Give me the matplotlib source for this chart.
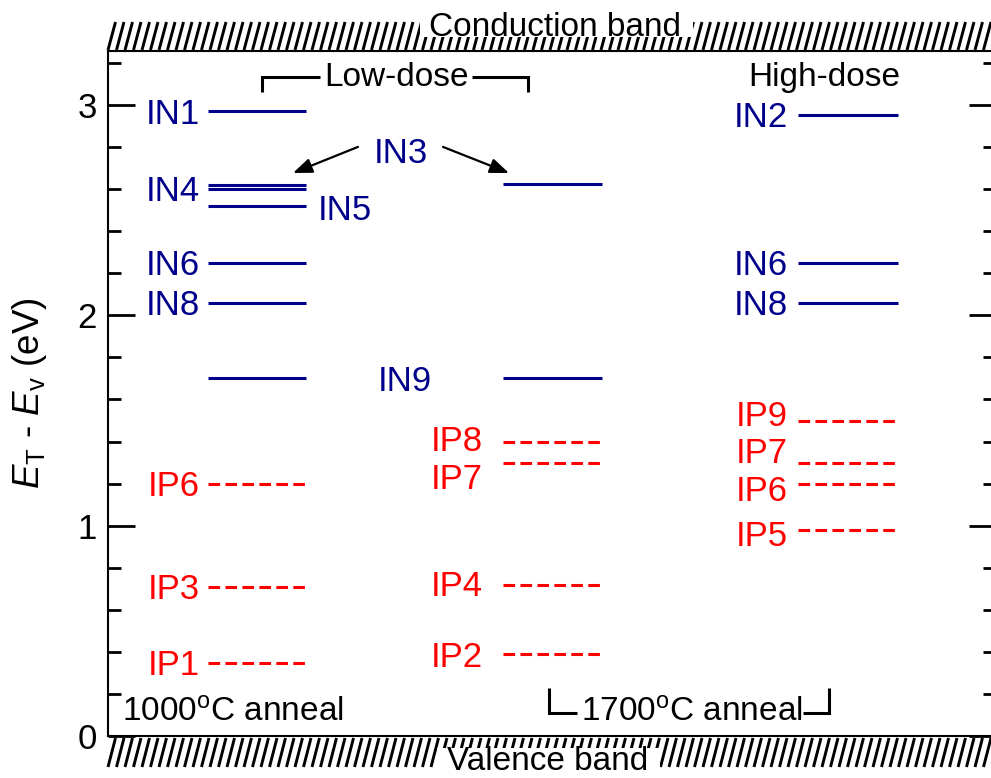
import matplotlib
matplotlib.use("Agg")
import matplotlib.pyplot as plt
from matplotlib.collections import LineCollection
from matplotlib.patches import Rectangle
from matplotlib.ticker import MultipleLocator

plt.rcParams['font.family'] = ['Liberation Sans', 'DejaVu Sans']
plt.rcParams['mathtext.fontset'] = 'custom'
plt.rcParams['mathtext.rm'] = 'Liberation Sans'
plt.rcParams['mathtext.it'] = 'Liberation Sans:italic'

# trap levels (eV above valence band)
low1000_names = ['IN1', 'IN3', 'IN4', 'IN5', 'IN6', 'IN8', 'IN9', 'IP6', 'IP3', 'IP1']
low1000_levels = [2.97, 2.62, 2.60, 2.52, 2.25, 2.06, 1.70, 1.20, 0.71, 0.35]

low1700_names = ['IN3', 'IN9', 'IP8', 'IP7', 'IP4', 'IP2']
low1700_levels = [2.625, 1.70, 1.40, 1.30, 0.72, 0.39]

high_names = ['IN2', 'IN6', 'IN8', 'IP9', 'IP7', 'IP6', 'IP5']
high_levels = [2.95, 2.25, 2.06, 1.50, 1.30, 1.20, 0.98]

W, H, DPI = 991, 778, 100
NAVY = '#00008b'
RED = '#ff0000'
FS = 25

fig = plt.figure(figsize=(W / DPI, H / DPI), dpi=DPI)
x0, x1, ytop, ybot = 108, 996, 51, 736.3
ax = fig.add_axes([x0 / W, 1 - ybot / H, (x1 - x0) / W, (ybot - ytop) / H])
px_per_ev = 210.5
ax.set_xlim(0, (x1 - x0) / 100)
ax.set_ylim(0, (ybot - ytop) / px_per_ev)


def px2pt(p):
    return p * 72 / DPI


# columns: (names, levels, line span, label gap in px)
columns = [
    (low1000_names, low1000_levels, (1.00, 1.98), 8),
    (low1700_names, low1700_levels, (3.95, 4.94), 20),
    (high_names, high_levels, (6.90, 7.90), 10),
]

# label nudges (px, downward) for crowded levels; None = labelled elsewhere
nudges = [
    {'IN3': None, 'IN5': 'right', 'IN9': None},
    {'IN3': None, 'IN9': None, 'IP8': -3, 'IP7': 14, 'IP4': -1.5},
    {'IN2': -1, 'IP9': -7, 'IP7': -12, 'IP6': 5, 'IP5': 3},
]

for (names, levels, (xa, xb), gap), nd in zip(columns, nudges):
    for name, lev in zip(names, levels):
        if name.startswith('IN'):
            ax.plot([xa, xb], [lev, lev], color=NAVY, lw=2.2, solid_capstyle='butt')
            col = NAVY
        else:
            ax.plot([xa, xb], [lev, lev], color=RED, lw=2.2,
                    linestyle=(0, (3.8, 1.75)), dash_capstyle='butt')
            col = RED
        n = nd.get(name, 0)
        if n is None:
            continue
        if n == 'right':
            ax.annotate(name, xy=(xb, lev), xytext=(px2pt(12), -px2pt(2 + 12.5)),
                        textcoords='offset points', ha='left', va='baseline',
                        color=col, fontsize=FS)
        else:
            ax.annotate(name, xy=(xa, lev), xytext=(-px2pt(gap), -px2pt(n + 12.5)),
                        textcoords='offset points', ha='right', va='baseline',
                        color=col, fontsize=FS)

# IN9 shared by both low-dose columns
in9 = low1000_levels[low1000_names.index('IN9')]
ax.annotate('IN9', xy=((1.98 + 3.95) / 2, in9), xytext=(0, -px2pt(12.5)),
            textcoords='offset points', ha='center', va='baseline',
            color=NAVY, fontsize=FS)

# IN3 shared label with arrows
in3_a = low1000_levels[low1000_names.index('IN3')]
in3_b = low1700_levels[low1700_names.index('IN3')]
ax.annotate('IN3', xy=(2.93, in3_a + 0.165), xytext=(0, -px2pt(12.5)),
            textcoords='offset points', ha='center', va='baseline',
            color=NAVY, fontsize=FS)
arrow = dict(arrowstyle='-|>,head_length=1.15,head_width=0.45', color='black',
             lw=1.6, shrinkA=0, shrinkB=0)
ax.annotate('', xy=(1.85, in3_a + 0.056), xytext=(2.50, in3_a + 0.18), arrowprops=arrow)
ax.annotate('', xy=(4.01, in3_b + 0.051), xytext=(3.35, in3_b + 0.175), arrowprops=arrow)

# group brackets and annotations
bk = dict(color='black', lw=2.2, solid_capstyle='butt', solid_joinstyle='miter')
ax.plot([1.54, 1.54, 2.12], [3.061, 3.13, 3.13], **bk)
ax.plot([3.64, 4.20, 4.20], [3.13, 3.13, 3.061], **bk)
ax.text(2.885, 3.089, 'Low-dose', ha='center', va='baseline', fontsize=24)
ax.text(7.16, 3.089, 'High-dose', ha='center', va='baseline', fontsize=24)

ax.plot([4.41, 4.41, 4.69], [0.230, 0.111, 0.111], **bk)
ax.plot([6.95, 7.21, 7.21], [0.111, 0.111, 0.230], **bk)
ax.text(5.84, 0.068, r'1700$^\mathrm{o}$C anneal', ha='center', va='baseline', fontsize=24)
ax.text(0.14, 0.068, r'1000$^\mathrm{o}$C anneal', ha='left', va='baseline', fontsize=24)

# axes styling
ax.set_xticks([])
ax.set_yticks([0, 1, 2, 3])
ax.yaxis.set_minor_locator(MultipleLocator(0.2))
ax.tick_params(axis='y', which='both', direction='in', left=True, right=True,
               labelright=False, labelsize=FS, pad=8)
ax.tick_params(axis='y', which='major', length=19.5, width=2)
ax.tick_params(axis='y', which='minor', length=9.5, width=2)
for s in ax.spines.values():
    s.set_linewidth(1.5)

fig.text(30 / W, 1 - 393 / H, r'$\mathit{E}_\mathrm{T}$ - $\mathit{E}_\mathrm{v}$ (eV)',
         rotation=90, ha='center', va='center', fontsize=26.5)

# hatched conduction / valence band edges
def band(y_top, y_bot):
    segs = []
    x = 108
    while x < W + 10:
        segs.append([(x / W, 1 - y_bot / H), ((x + 7.5) / W, 1 - y_top / H)])
        x += 8.5
    return segs

hatch = LineCollection(band(22, 50) + band(738, 767), colors='black',
                       linewidths=2.1, transform=fig.transFigure)
fig.add_artist(hatch)
for (xl, yt, xr, yb) in [(420, 0, 693, 37), (437, 748, 660, 778)]:
    fig.add_artist(Rectangle((xl / W, 1 - yb / H), (xr - xl) / W, (yb - yt) / H,
                             transform=fig.transFigure, facecolor='white',
                             edgecolor='none', zorder=3))
fig.text(555 / W, 1 - 36 / H, 'Conduction band', ha='center', va='baseline',
         fontsize=24, zorder=4)
fig.text(548 / W, 1 - 770 / H, 'Valence band', ha='center', va='baseline',
         fontsize=24, zorder=4)

fig.savefig('out.png', dpi=DPI)
